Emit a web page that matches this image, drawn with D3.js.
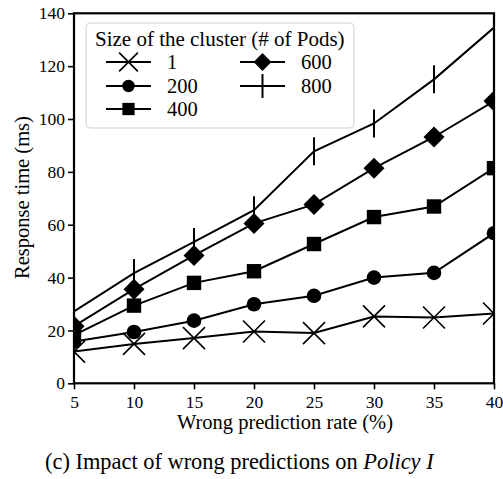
<!DOCTYPE html>
<html><head><meta charset="utf-8">
<script src="https://cdn.jsdelivr.net/npm/d3@7"></script>
<style>body{margin:0;background:#fff}svg{display:block}</style>
</head><body>
<script>
const rates = [5, 10, 15, 20, 25, 30, 35, 40];
const clusterSizes = ["1", "200", "400", "600", "800"];
const s1   = [12.0, 14.9, 17.1, 19.6, 19.0, 25.3, 24.9, 26.4];
const s200 = [15.8, 19.4, 23.7, 29.9, 33.1, 40.0, 41.8, 56.8];
const s400 = [18.2, 29.4, 38.0, 42.4, 52.7, 62.9, 66.9, 81.4];
const s600 = [21.6, 35.6, 48.4, 60.5, 67.7, 81.4, 93.2, 106.8];
const s800 = [27.2, 41.7, 53.5, 65.5, 87.8, 98.3, 115.0, 134.6];
const yTicks = [0, 20, 40, 60, 80, 100, 120, 140];
const xTicks = [5, 10, 15, 20, 25, 30, 35, 40];
const seriesValues = [s1, s200, s400, s600, s800];
const markers = ["x", "circle", "square", "diamond", "vline"];

const FONT = "'Liberation Serif', 'Times New Roman', serif";
const W = 503, H = 479;
const svg = d3.select("body").append("svg").attr("width", W).attr("height", H);
const L = 74, R = 494, T = 13.3, B = 383.3;
const x = d3.scaleLinear().domain([5, 40]).range([L, R]);
const y = d3.scaleLinear().domain([0, 140]).range([B, T]);

svg.append("defs").append("clipPath").attr("id", "clip")
  .append("rect").attr("x", L).attr("y", T).attr("width", R - L).attr("height", B - T);

function drawMarker(g, type, cx, cy, s) {
  if (type === "x") {
    const h = 11 * s;
    g.append("path").attr("d", `M${cx-h},${cy-h}L${cx+h},${cy+h}M${cx-h},${cy+h}L${cx+h},${cy-h}`)
      .attr("stroke", "#000").attr("stroke-width", 1.6).attr("fill", "none");
  } else if (type === "circle") {
    g.append("circle").attr("cx", cx).attr("cy", cy).attr("r", 7.3 * s).attr("fill", "#000");
  } else if (type === "square") {
    const h = 7.2 * s;
    g.append("rect").attr("x", cx - h).attr("y", cy - h).attr("width", 2 * h).attr("height", 2 * h).attr("fill", "#000");
  } else if (type === "diamond") {
    const h = 10.5 * s;
    g.append("path").attr("d", `M${cx},${cy-h}L${cx+h},${cy}L${cx},${cy+h}L${cx-h},${cy}Z`).attr("fill", "#000");
  } else if (type === "vline") {
    const h = 14 * s;
    g.append("path").attr("d", `M${cx},${cy-h}L${cx},${cy+h}`).attr("stroke", "#000").attr("stroke-width", 2);
  }
}

const plot = svg.append("g").attr("clip-path", "url(#clip)");
const line = d3.line().x((d, i) => x(rates[i])).y(d => y(d));
seriesValues.forEach((vals, si) => {
  const g = plot.append("g");
  g.append("path").datum(vals).attr("d", line).attr("fill", "none").attr("stroke", "#000").attr("stroke-width", 2);
  vals.forEach((v, i) => drawMarker(g, markers[si], x(rates[i]), y(v), 1));
});

// axes
const yAxis = d3.axisLeft(y).tickValues(yTicks).tickSize(6).tickPadding(3);
const xAxis = d3.axisBottom(x).tickValues(xTicks).tickSize(6).tickPadding(6);
const gy = svg.append("g").attr("transform", `translate(${L},0)`).call(yAxis);
const gx = svg.append("g").attr("transform", `translate(0,${B})`).call(xAxis);
[gx, gy].forEach(g => {
  g.select(".domain").remove();
  g.selectAll(".tick line").attr("stroke", "#000").attr("stroke-width", 1.6);
  g.selectAll(".tick text").style("font-size", "17.5px").style("font-family", FONT).attr("fill", "#000");
});
svg.append("rect").attr("x", L).attr("y", T).attr("width", R - L).attr("height", B - T)
  .attr("fill", "none").attr("stroke", "#000").attr("stroke-width", 2.2);

function txt(g) { return g.append("text").style("font-family", FONT).attr("fill", "#000"); }

// axis labels
txt(svg).attr("transform", `translate(28.5,197.5) rotate(-90)`).attr("text-anchor", "middle")
  .style("font-size", "20.5px").text("Response time (ms)");
txt(svg).attr("x", 285).attr("y", 429).attr("text-anchor", "middle")
  .style("font-size", "20.5px").text("Wrong prediction rate (%)");

// legend
const lg = svg.append("g");
lg.append("rect").attr("x", 86).attr("y", 23).attr("width", 268).attr("height", 105).attr("rx", 4)
  .attr("fill", "#fff").attr("fill-opacity", 0.85).attr("stroke", "#d0d0d0").attr("stroke-width", 1);
txt(lg).attr("x", 95).attr("y", 45.5).style("font-size", "21px").text("Size of the cluster (# of Pods)");
const rowsY = [62, 86, 109];
clusterSizes.forEach((name, i) => {
  const col = i < 3 ? 0 : 1;
  const row = i < 3 ? i : i - 3;
  const x0 = col === 0 ? 106 : 240;
  const cy = rowsY[row];
  lg.append("path").attr("d", `M${x0},${cy}L${x0 + 45},${cy}`).attr("stroke", "#000").attr("stroke-width", 2);
  drawMarker(lg, markers[i], x0 + 22.5, cy, 0.85);
  txt(lg).attr("x", x0 + 61).attr("y", cy + 6.5)
    .style("font-size", "20.5px").text(name);
});

// caption
const cap = txt(svg).attr("x", 45).attr("y", 469).style("font-size", "22.4px");
cap.append("tspan").text("(c) Impact of wrong predictions on ");
cap.append("tspan").style("font-style", "italic").text("Policy I");
</script>
</body></html>
